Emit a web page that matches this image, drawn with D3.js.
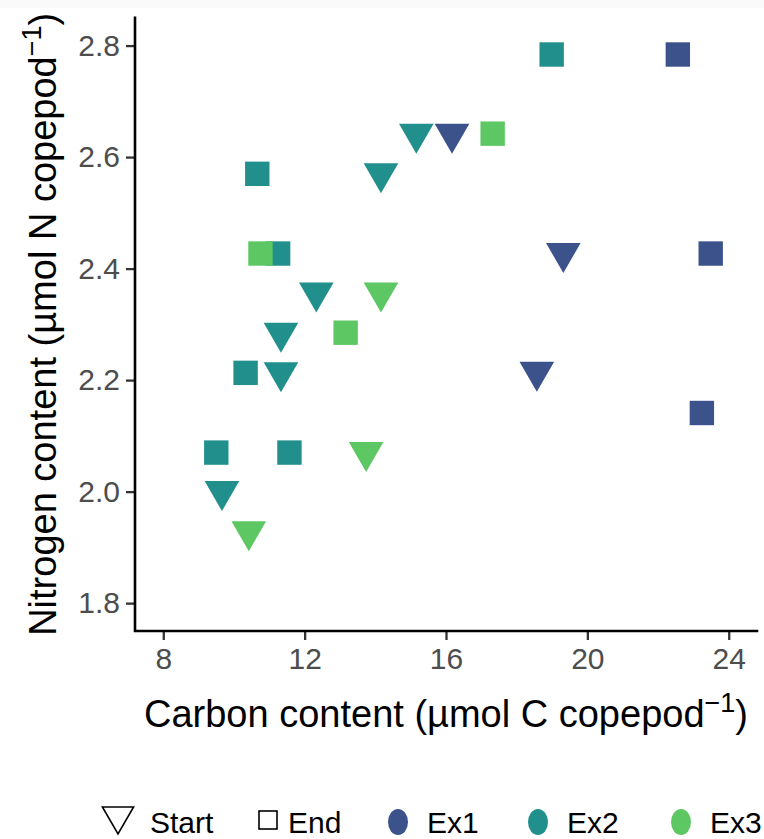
<!DOCTYPE html>
<html>
<head>
<meta charset="utf-8">
<script src="https://cdn.jsdelivr.net/npm/d3@7"></script>
<style>
  html, body { margin: 0; padding: 0; background: #ffffff; }
  svg { display: block; }
  text { font-family: "Liberation Sans", Arial, sans-serif; }
</style>
</head>
<body>
<script>
// ---------- data ----------
const experiments = ["Ex1", "Ex2", "Ex3"];
const expColors = ["#3B528B", "#21908C", "#5DC863"];
const phases = ["Start", "End"];

const ex1StartC = [16.17, 19.32, 18.57];
const ex1StartN = [2.642, 2.428, 2.215];
const ex1EndC   = [22.56, 23.49, 23.24];
const ex1EndN   = [2.784, 2.427, 2.141];

const ex2StartC = [15.16, 14.16, 12.33, 11.33, 11.33, 9.66];
const ex2StartN = [2.642, 2.571, 2.357, 2.285, 2.214, 2.001];
const ex2EndC   = [18.99, 10.66, 11.25, 10.33, 9.50, 11.57];
const ex2EndN   = [2.784, 2.570, 2.427, 2.213, 2.070, 2.070];

const ex3StartC = [14.16, 13.74, 10.42];
const ex3StartN = [2.357, 2.071, 1.929];
const ex3EndC   = [17.32, 10.75, 13.16];
const ex3EndN   = [2.642, 2.427, 2.285];

const xTicks = [8, 12, 16, 20, 24];
const yTicks = [1.8, 2.0, 2.2, 2.4, 2.6, 2.8];
const xLimits = [8, 24];
const yLimits = [1.8, 2.8];

// ---------- build rows ----------
const series = [
  ["Ex1", "Start", ex1StartC, ex1StartN], ["Ex1", "End", ex1EndC, ex1EndN],
  ["Ex2", "Start", ex2StartC, ex2StartN], ["Ex2", "End", ex2EndC, ex2EndN],
  ["Ex3", "Start", ex3StartC, ex3StartN], ["Ex3", "End", ex3EndC, ex3EndN]
];
const rows = [];
series.forEach(([ex, ph, cs, ns]) => cs.forEach((c, i) => rows.push({ex, ph, c, n: ns[i]})));

// ---------- layout ----------
const W = 764, H = 839;
const panel = {left: 135, right: 757, top: 17.7, bottom: 631};
const expand = (lim) => { const d = (lim[1] - lim[0]) * 0.05; return [lim[0] - d, lim[1] + d]; };

const x = d3.scaleLinear().domain(expand(xLimits)).range([panel.left, panel.right]);
const y = d3.scaleLinear().domain(expand(yLimits)).range([panel.bottom, panel.top]);
const color = d3.scaleOrdinal().domain(experiments).range(expColors);

const svg = d3.select("body").append("svg").attr("width", W).attr("height", H);
svg.append("rect").attr("x", 0).attr("y", 0).attr("width", W).attr("height", H).attr("fill", "#fff");
svg.append("rect").attr("x", 0).attr("y", 0).attr("width", W).attr("height", 8).attr("fill", "#fafafa");

// ---------- axes ----------
const xAxis = d3.axisBottom(x).tickValues(xTicks).tickSize(9).tickPadding(8).tickFormat(d3.format("d"));
const yAxis = d3.axisLeft(y).tickValues(yTicks).tickSize(9).tickPadding(6).tickFormat(d3.format(".1f"));

const gx = svg.append("g").attr("transform", `translate(0,${panel.bottom})`).call(xAxis);
const gy = svg.append("g").attr("transform", `translate(${panel.left},0)`).call(yAxis);
[gx, gy].forEach(g => {
  g.select(".domain").remove();
  g.selectAll(".tick line").attr("stroke", "#333333").attr("stroke-width", 2.3);
  g.selectAll(".tick text").attr("fill", "#4D4D4D").attr("font-size", 30)
    .attr("font-family", "Liberation Sans, Arial, sans-serif");
});
gx.selectAll(".tick text").attr("dy", "0.71em");
// axis lines
svg.append("path")
  .attr("d", `M${panel.left},${panel.top}V${panel.bottom}H${panel.right}`)
  .attr("fill", "none").attr("stroke", "#000").attr("stroke-width", 2.6)
  .attr("stroke-linecap", "square");

// ---------- marks ----------
const triR = 20;            // R pch 25 style, centroid at the point
const sqSide = 24.4;
function triPath(cx, cy, r) {
  const xc = r * Math.sqrt(3) / 2;
  return `M${cx - xc},${cy - r / 2}L${cx + xc},${cy - r / 2}L${cx},${cy + r}Z`;
}
const gm = svg.append("g");
rows.forEach(d => {
  const px = x(d.c), py = y(d.n);
  if (d.ph === "Start") {
    gm.append("path").attr("d", triPath(px, py, triR)).attr("fill", color(d.ex));
  } else {
    gm.append("rect").attr("x", px - sqSide / 2).attr("y", py - sqSide / 2)
      .attr("width", sqSide).attr("height", sqSide).attr("fill", color(d.ex));
  }
});

// ---------- titles ----------
const xt = svg.append("text").attr("x", (panel.left + panel.right) / 2).attr("y", 727)
  .attr("text-anchor", "middle").attr("font-size", 38).attr("fill", "#000");
xt.append("tspan").text("Carbon content (µmol C copepod");
xt.append("tspan").attr("font-size", 27).attr("dy", -15).text("−1");
xt.append("tspan").attr("dy", 15).text(")");

const yt = svg.append("text")
  .attr("transform", `translate(56,${(panel.top + panel.bottom) / 2}) rotate(-90)`)
  .attr("text-anchor", "middle").attr("font-size", 38).attr("fill", "#000");
yt.append("tspan").text("Nitrogen content (µmol N copepod");
yt.append("tspan").attr("font-size", 27).attr("dy", -15).text("−1");
yt.append("tspan").attr("dy", 15).text(")");

// ---------- legend ----------
const lg = svg.append("g");
const legY = 822;
lg.append("path").attr("d", triPath(118, 816, 18)).attr("fill", "none")
  .attr("stroke", "#000").attr("stroke-width", 1.6);
lg.append("text").attr("x", 150).attr("y", legY + 11).attr("font-size", 30).text(phases[0]);
lg.append("rect").attr("x", 259).attr("y", 811).attr("width", 18).attr("height", 18)
  .attr("fill", "none").attr("stroke", "#000").attr("stroke-width", 1.6);
lg.append("text").attr("x", 288).attr("y", legY + 11).attr("font-size", 30).text(phases[1]);
const legX = [398, 538, 681];
experiments.forEach((e, i) => {
  lg.append("ellipse").attr("cx", legX[i]).attr("cy", legY).attr("rx", 10).attr("ry", 13)
    .attr("fill", color(e));
  lg.append("text").attr("x", legX[i] + 29).attr("y", legY + 11).attr("font-size", 30).text(e);
});
</script>
</body>
</html>
